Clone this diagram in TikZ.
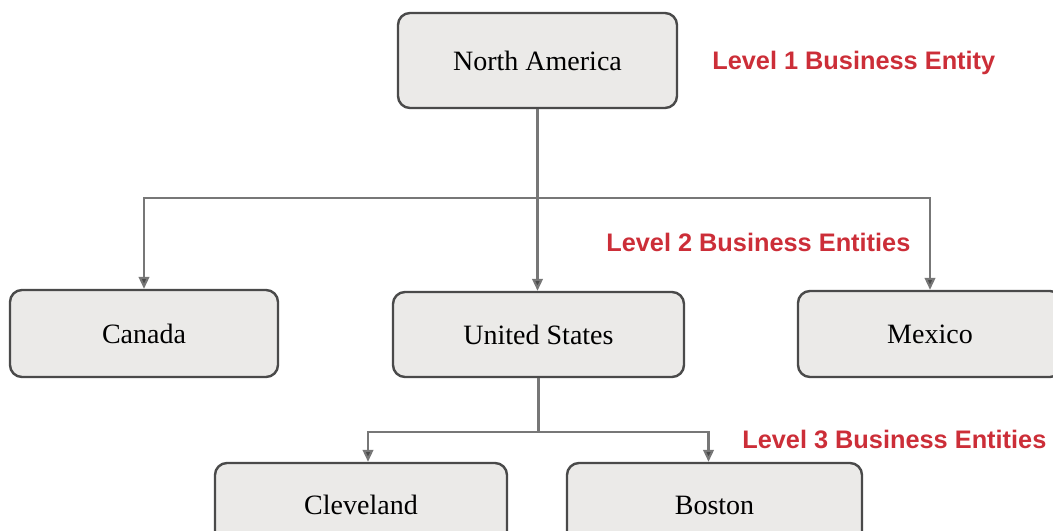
\documentclass[tikz,border=0pt]{standalone}
\usepackage{fontspec}
\setmainfont{Liberation Serif}
\newfontfamily\labelfont{Liberation Sans}
\usetikzlibrary{arrows.meta}
\definecolor{boxfill}{HTML}{EBEAE8}
\definecolor{boxline}{HTML}{4A4A4A}
\definecolor{linkgray}{HTML}{777777}
\definecolor{levelred}{HTML}{CC2E38}
\tikzset{
  entity/.style={draw=boxline, fill=boxfill, line width=1.8pt, rounded corners=9pt,
    inner sep=0pt, font=\fontsize{21}{25}\selectfont},
  link/.style={draw=linkgray, line width=1.6pt},
  linkarrow/.style={link, -{Triangle[width=8pt,length=9pt,fill=boxline]}},
  levellabel/.style={anchor=base west, inner sep=0pt, text=levelred,
    font=\labelfont\bfseries\fontsize{19}{23}\selectfont}
}
\begin{document}
\begin{tikzpicture}[x=0.75pt,y=0.75pt,yscale=-1,xscale=1]
    \useasboundingbox (0,0) rectangle (1053,531);
    \begin{scope}
    \clip (0,0) rectangle (1053,531);
    % Entity boxes
    \node [entity, minimum width=279*0.75pt, minimum height=95*0.75pt] (na) at (537.5,60.5) {North America};
    \node [entity, minimum width=268*0.75pt, minimum height=87*0.75pt] (canada) at (144,333.5) {Canada};
    \node [entity, minimum width=291*0.75pt, minimum height=85*0.75pt] (us) at (538.5,334.5) {United States};
    \node [entity, minimum width=264*0.75pt, minimum height=86*0.75pt] (mexico) at (930,334) {Mexico};
    \node [entity, minimum width=292*0.75pt, minimum height=84*0.75pt] (cleveland) at (361,505) {Cleveland};
    \node [entity, minimum width=295*0.75pt, minimum height=84*0.75pt] (boston) at (714.5,505) {Boston};
    \end{scope}
    % Connectors
    \coordinate (bustop) at (537.5,198);
    \coordinate (buslow) at (538.5,432);
    \draw [link] (na) -- (bustop);
    \draw [linkarrow] (bustop) -| (canada);
    \draw [linkarrow] (bustop) -- (bustop |- us.north);
    \draw [linkarrow] (bustop) -| (mexico);
    \draw [link] (us) -- (buslow);
    \draw [linkarrow] (buslow) -| ([xshift=7*0.75pt]cleveland.north);
    \draw [linkarrow] (buslow) -| ([xshift=-6*0.75pt]boston.north);
    % Level labels
    \node [levellabel] (lvl1) at (712,70) {Level 1 Business Entity};
    \node [levellabel] (lvl2) at (606,252) {Level 2 Business Entities};
    \node [levellabel] (lvl3) at (742,448) {Level 3 Business Entities};
\end{tikzpicture}
\end{document}
